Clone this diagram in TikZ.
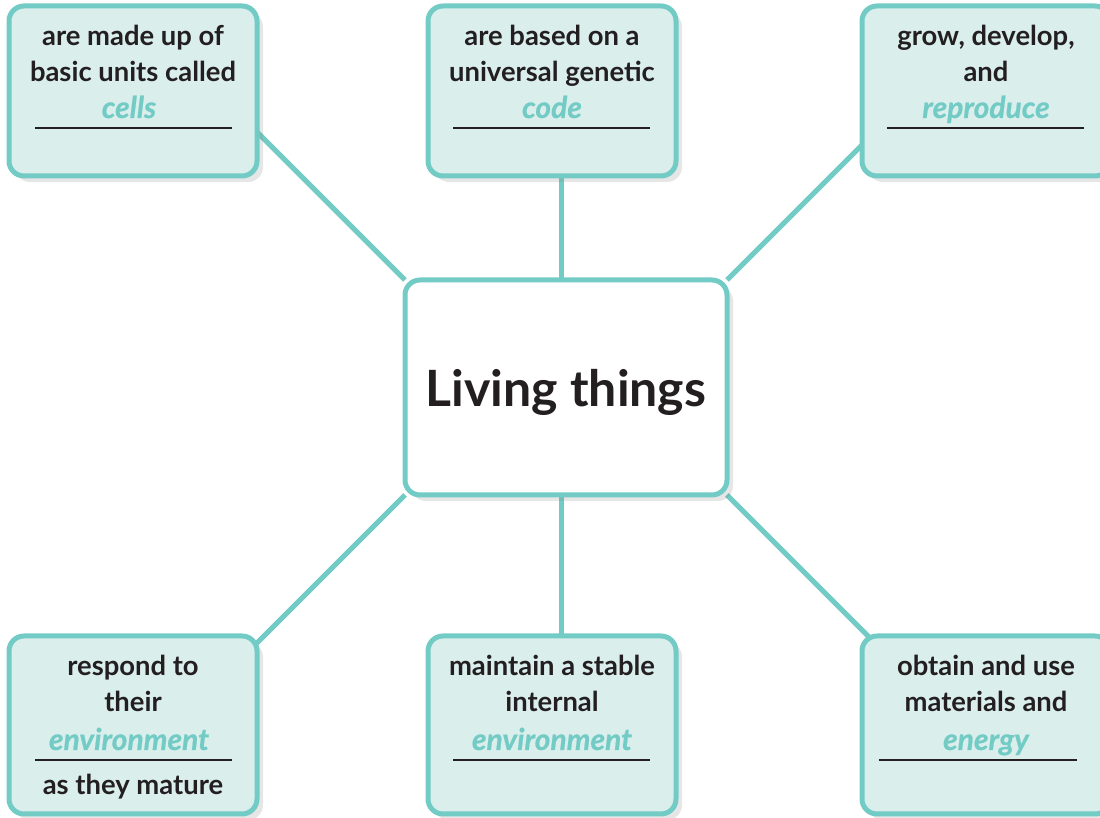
\documentclass[tikz,border=0pt]{standalone}
\usepackage{fontspec}
\setmainfont{Lato}
\usetikzlibrary{positioning,calc,shadows,backgrounds}
\definecolor{LTeal}{RGB}{115,203,197}
\definecolor{LTealFill}{RGB}{218,238,236}
\definecolor{LInk}{RGB}{35,31,32}

\begin{document}
\begin{tikzpicture}[x=0.5pt,y=0.5pt,
    % style for the six outer boxes
    topicbox/.style={
        draw=LTeal, line width=2.5pt, fill=LTealFill,
        rounded corners=7.5pt, minimum width=124pt, inner sep=0pt, outer sep=0pt,
        drop shadow={shadow xshift=3pt, shadow yshift=-3pt, opacity=0.2}
    },
    % style for the centre box
    mainbox/.style={
        draw=LTeal, line width=2.5pt, fill=white,
        rounded corners=7.5pt, minimum width=161pt, minimum height=107.5pt,
        inner sep=0pt, outer sep=0pt, text depth=0pt,
        font=\fontsize{25}{30}\selectfont\bfseries, text=LInk,
        drop shadow={shadow xshift=3pt, shadow yshift=-3pt, opacity=0.2}
    },
    % black text in the boxes (anchored on its last line)
    boxtext/.style={
        font=\fontsize{13.7}{18.25}\selectfont\bfseries, text=LInk,
        align=center, inner sep=0pt, anchor=base
    },
    % teal answer word
    keyword/.style={
        font=\fontsize{15}{18.25}\selectfont\bfseries\itshape\addfontfeatures{FakeBold=0.6},
        text=LTeal, inner sep=0pt, anchor=base
    },
    % the answer line
    rule/.style={draw=LInk, line width=0.7pt},
    % connectors
    link/.style={draw=LTeal, line width=2.5pt}
]
    \clip (0,0) rectangle (1100,818);

    % --- 1. centre box ---
    \node[mainbox] (C) at (566,430.5) {Living things};

    % --- 2. top row ---
    \node[topicbox, minimum height=85pt] (TL) at (133,727) {};
    \node[topicbox, minimum height=85pt] (TM) at (552,727) {};
    \node[topicbox, minimum height=85pt] (TR) at (986,727) {};

    \node[boxtext] (TLtxt) at ($(TL.north)+(0,-76)$) {are made up of\\basic units called};
    \node[keyword] (TLkey) at ($(TL.north)+(-4,-112)$) {cells};
    \draw[rule] ($(TL.north)+(-98,-122)$) -- ++(197,0);

    \node[boxtext] (TMtxt) at ($(TM.north)+(0,-76)$) {are based on a\\universal genetic};
    \node[keyword] (TMkey) at ($(TM.north)+(0,-112)$) {code};
    \draw[rule] ($(TM.north)+(-99,-122)$) -- ++(197,0);

    \node[boxtext] (TRtxt) at ($(TR.north)+(0,-76)$) {grow, develop,\\and};
    \node[keyword] (TRkey) at ($(TR.north)+(0,-112)$) {reproduce};
    \draw[rule] ($(TR.north)+(-99,-122)$) -- ++(197,0);

    % --- 3. bottom row ---
    \node[topicbox, minimum height=89pt] (BL) at (133,93) {};
    \node[topicbox, minimum height=89pt] (BM) at (552,93) {};
    \node[topicbox, minimum height=89pt] (BR) at (986,93) {};

    \node[boxtext] (BLtxt) at ($(BL.north)+(0,-76)$) {respond to\\their};
    \node[keyword] (BLkey) at ($(BL.north)+(-4,-114)$) {environment};
    \draw[rule] ($(BL.north)+(-98,-124)$) -- ++(197,0);
    \node[boxtext] (BLend) at ($(BL.north)+(0,-159)$) {as they mature};

    \node[boxtext] (BMtxt) at ($(BM.north)+(0,-76)$) {maintain a stable\\internal};
    \node[keyword] (BMkey) at ($(BM.north)+(0,-114)$) {environment};
    \draw[rule] ($(BM.north)+(-99,-124)$) -- ++(197,0);

    \node[boxtext] (BRtxt) at ($(BR.north)+(0,-76)$) {obtain and use\\materials and};
    \node[keyword] (BRkey) at ($(BR.north)+(0,-114)$) {energy};
    \draw[rule] ($(BR.north)+(-107,-124)$) -- ++(198,0);

    % --- 4. connectors, behind the boxes ---
    \coordinate (tlEnd) at ($(C.north west)+(-180,180)$);
    \coordinate (trEnd) at ($(C.north east)+(180,180)$);
    \coordinate (blEnd) at ($(C.south west)+(-180,-180)$);
    \coordinate (brEnd) at ($(C.south east)+(180,-180)$);
    \coordinate (tmEnd) at ($(C.north)+(-5,0)$);
    \coordinate (bmEnd) at ($(C.south)+(-5,0)$);
    \begin{scope}[on background layer]
        \draw[link] (C.north west) -- (tlEnd);
        \draw[link] (C.north east) -- (trEnd);
        \draw[link] (C.south west) -- (blEnd);
        \draw[link] (C.south east) -- (brEnd);
        \draw[link] (tmEnd) -- (tmEnd |- TM.south);
        \draw[link] (bmEnd) -- (bmEnd |- BM.north);
    \end{scope}
\end{tikzpicture}
\end{document}
